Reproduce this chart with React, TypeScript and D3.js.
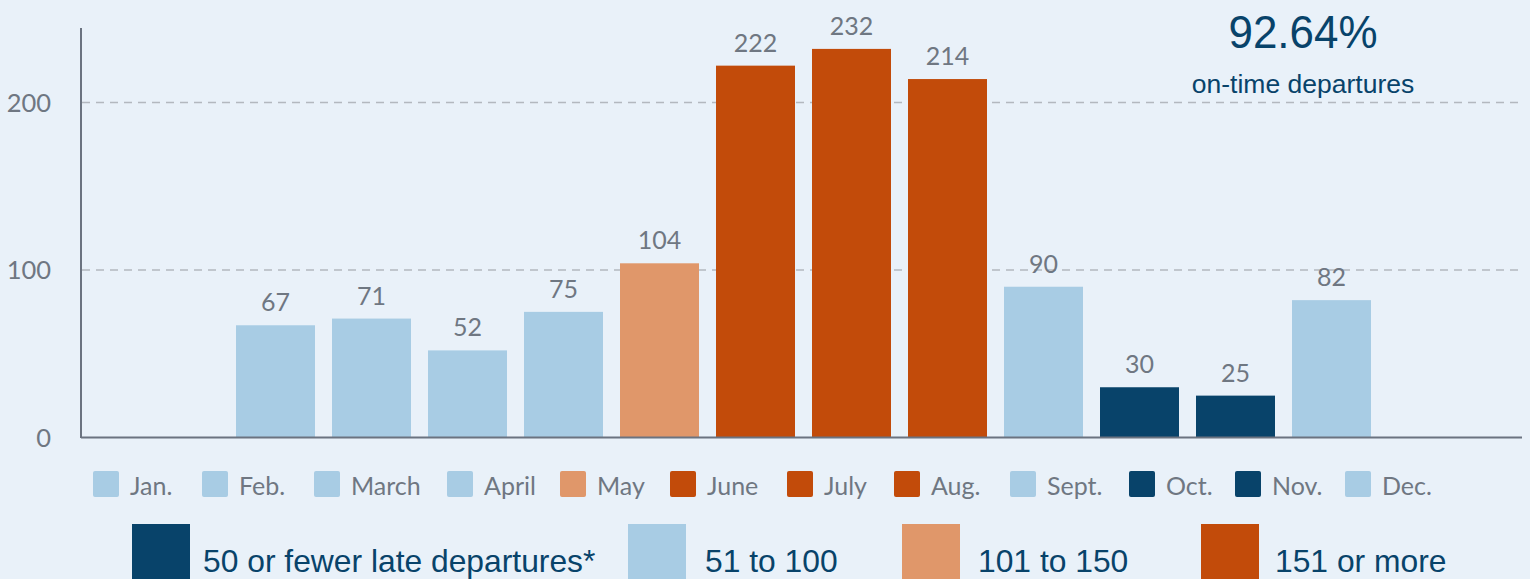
import React from "react";
import * as d3 from "d3";

const months = ["Jan.", "Feb.", "March", "April", "May", "June", "July", "Aug.", "Sept.", "Oct.", "Nov.", "Dec."];
const lateDepartures = [67, 71, 52, 75, 104, 222, 232, 214, 90, 30, 25, 82];
const yTicks = [0, 100, 200];
const bucketLabels = ["50 or fewer late departures*", "51 to 100", "101 to 150", "151 or more"];
const bucketColors = ["#08436a", "#a8cce4", "#e0976a", "#c24b0a"];
const bucketThresholds = [51, 101, 151];
const onTimeRate = "92.64%";
const onTimeLabel = "on-time departures";

// layout
const W = 1530;
const H = 579;
const BG = "#e9f1f9";
const GRAY = "#6f7782";
const NAVY = "#08436a";
const monthLegendX = [93, 202, 314, 447, 560, 670, 787, 894, 1010, 1129, 1235, 1345];
const bucketLegendX = [132, 628, 902, 1201];
const bucketTextX = [203, 705, 978, 1275];

const colorScale = d3.scaleThreshold<number, string>().domain(bucketThresholds).range(bucketColors);

export default function App() {
  const x = d3
    .scaleBand<string>()
    .domain(months)
    .range([227.5, 1379.5])
    .paddingInner(17 / 96)
    .paddingOuter(17 / 192);
  const y = d3.scaleLinear().domain([0, 244]).range([437.5, 28.8]);

  return (
    <svg
      width={W}
      height={H}
      style={{ position: "absolute", left: 0, top: 0, display: "block", background: BG }}
    >
      <rect x={0} y={0} width={W} height={H} fill={BG} />
      {/* grid lines */}
      {yTicks
        .filter((t) => t > 0)
        .map((t) => (
          <line
            key={t}
            x1={82}
            x2={1522}
            y1={y(t)}
            y2={y(t)}
            stroke="#b3b8bf"
            strokeWidth={1.6}
            strokeDasharray="8 6"
          />
        ))}
      {/* y tick labels */}
      {yTicks.map((t) => (
        <text
          key={t}
          x={51}
          y={y(t)}
          dy="0.36em"
          textAnchor="end"
          fontFamily="Lato"
          fontSize={25.5}
          fill={GRAY}
        >
          {t}
        </text>
      ))}
      {/* bars */}
      {lateDepartures.map((v, i) => (
        <rect
          key={months[i]}
          x={x(months[i])}
          y={y(v)}
          width={x.bandwidth()}
          height={y(0) - y(v)}
          fill={colorScale(v)}
        />
      ))}
      {/* value labels */}
      {lateDepartures.map((v, i) => (
        <text
          key={"l" + months[i]}
          x={(x(months[i]) as number) + x.bandwidth() / 2}
          y={y(v) - 14}
          textAnchor="middle"
          fontFamily="Lato"
          fontSize={25}
          fill={GRAY}
        >
          {v}
        </text>
      ))}
      {/* axes */}
      <line x1={81} x2={81} y1={28} y2={438} stroke="#6b7380" strokeWidth={2} />
      <line x1={81} x2={1522} y1={437.5} y2={437.5} stroke="#6b7380" strokeWidth={2} />
      {/* annotation */}
      <text
        x={1303}
        y={48}
        textAnchor="middle"
        fontFamily="Liberation Sans"
        fontSize={46}
        fill={NAVY}
        textLength={149}
        lengthAdjust="spacingAndGlyphs"
      >
        {onTimeRate}
      </text>
      <text
        x={1303}
        y={93}
        textAnchor="middle"
        fontFamily="Liberation Sans"
        fontSize={26.5}
        fill={NAVY}
      >
        {onTimeLabel}
      </text>
      {/* month legend */}
      {months.map((m, i) => (
        <g key={"ml" + m}>
          <rect
            x={monthLegendX[i]}
            y={471}
            width={26}
            height={26}
            rx={2}
            fill={colorScale(lateDepartures[i])}
          />
          <text x={monthLegendX[i] + 37} y={495} fontFamily="Lato" fontSize={25} fill={GRAY}>
            {m}
          </text>
        </g>
      ))}
      {/* bucket legend */}
      {bucketLabels.map((b, i) => (
        <g key={b}>
          <rect x={bucketLegendX[i]} y={524} width={58} height={60} fill={bucketColors[i]} />
          <text x={bucketTextX[i]} y={572} fontFamily="Liberation Sans" fontSize={31.8} fill={NAVY}>
            {b}
          </text>
        </g>
      ))}
    </svg>
  );
}
